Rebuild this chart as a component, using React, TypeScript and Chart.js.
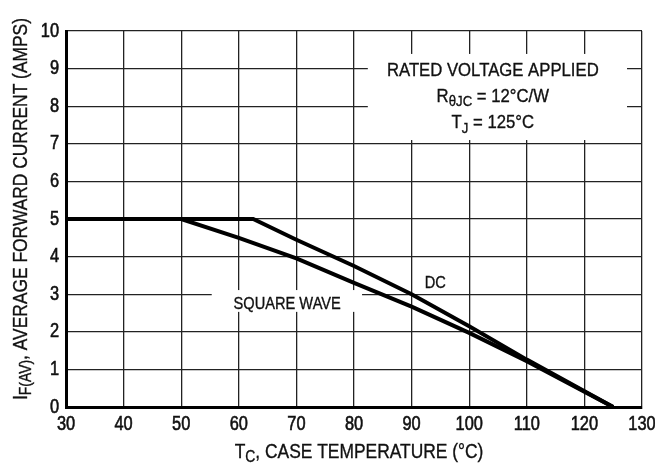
import React, { useEffect, useRef } from "react";
import { Chart, registerables } from "chart.js";

Chart.register(...registerables);

const xTicksMin = 30;
const xTicksMax = 130;
const yTicksMin = 0;
const yTicksMax = 10;

const dcTemp = [30, 62.5, 70, 80, 90, 100, 110, 125];
const dcCurrent = [5, 5, 4.45, 3.75, 3.0, 2.15, 1.26, 0];
const swTemp = [30, 50, 60, 70, 80, 90, 100, 110, 125];
const swCurrent = [5, 5, 4.5, 3.95, 3.3, 2.67, 1.97, 1.22, 0];

const FONT = "'Liberation Sans', Arial, sans-serif";

type Part = [string, boolean];

function drawParts(ctx: CanvasRenderingContext2D, parts: Part[], cx: number, cy: number, size: number, sx: number, align: "center" | "left" | "right" = "center", weight = 0.35) {
  const big = `${size}px ${FONT}`;
  const small = `${Math.round(size * 0.78)}px ${FONT}`;
  let w = 0;
  for (const [t, sub] of parts) {
    ctx.font = sub ? small : big;
    w += ctx.measureText(t).width;
  }
  ctx.save();
  ctx.translate(cx, cy);
  ctx.scale(sx, 1);
  ctx.textAlign = "left";
  ctx.textBaseline = "middle";
  ctx.strokeStyle = ctx.fillStyle as string;
  ctx.lineWidth = weight;
  let x = align === "center" ? -w / 2 : align === "right" ? -w : 0;
  for (const [t, sub] of parts) {
    ctx.font = sub ? small : big;
    const yy = sub ? size * 0.3 : 0;
    ctx.fillText(t, x, yy);
    if (weight > 0) ctx.strokeText(t, x, yy);
    x += ctx.measureText(t).width;
  }
  ctx.restore();
}

const annotationPlugin = {
  id: "annot",
  afterDatasetsDraw(chart: any) {
    const { ctx, scales } = chart;
    const xs = scales.x;
    const ys = scales.y;
    const px = (v: number) => xs.getPixelForValue(v);
    const py = (v: number) => ys.getPixelForValue(v);
    ctx.save();
    ctx.fillStyle = "#fff";
    ctx.fillRect(px(82.4), py(9.39), px(127.4) - px(82.4), py(7.1) - py(9.39));
    ctx.fillRect(px(55.3), py(3.11), px(81.4) - px(55.3), py(2.53) - py(3.11));
    ctx.fillStyle = "#111";
    drawParts(ctx, [["RATED VOLTAGE APPLIED", false]], px(104.1), py(8.94), 19, 0.88);
    drawParts(ctx, [["R", false], ["θJC", true], [" = 12°C/W", false]], px(104.1), py(8.26), 19, 0.88);
    drawParts(ctx, [["T", false], ["J", true], [" = 125°C", false]], px(104.1), py(7.55), 19, 0.88);
    drawParts(ctx, [["SQUARE WAVE", false]], px(68.4), py(2.74), 17, 0.86);
    drawParts(ctx, [["DC", false]], px(94.1), py(3.3), 17, 0.86);

    // tick labels from the scales
    for (const t of xs.ticks) {
      drawParts(ctx, [[String(t.value), false]], xs.getPixelForValue(t.value), 424, 20, 0.82, "center", 0.6);
    }
    for (const t of ys.ticks) {
      drawParts(ctx, [[String(t.value), false]], 59, ys.getPixelForValue(t.value), 20, 0.82, "right", 0.6);
    }

    // axis titles
    drawParts(ctx, [["T", false], ["C", true], [", CASE TEMPERATURE (°C)", false]], 359, 452, 20, 0.87);
    ctx.save();
    ctx.translate(21, 209);
    ctx.rotate(-Math.PI / 2);
    drawParts(ctx, [["I", false], ["F(AV)", true], [", AVERAGE FORWARD CURRENT (AMPS)", false]], 0, 0, 20, 0.87);
    ctx.restore();
    ctx.restore();
  },
};

export default function App() {
  const ref = useRef<HTMLCanvasElement | null>(null);
  useEffect(() => {
    if (!ref.current) return;
    const chart = new Chart(ref.current, {
      type: "line",
      data: {
        datasets: [
          {
            label: "DC",
            data: dcTemp.map((t, i) => ({ x: t, y: dcCurrent[i] })),
            borderColor: "#000",
            borderWidth: 4,
            pointRadius: 0,
            tension: 0,
          },
          {
            label: "SQUARE WAVE",
            data: swTemp.map((t, i) => ({ x: t, y: swCurrent[i] })),
            borderColor: "#000",
            borderWidth: 4,
            pointRadius: 0,
            tension: 0,
          },
        ],
      },
      options: {
        responsive: false,
        animation: false,
        layout: { padding: { top: 31, right: 13, left: 0, bottom: 0 } },
        plugins: { legend: { display: false }, tooltip: { enabled: false } },
        scales: {
          x: {
            type: "linear",
            min: xTicksMin,
            max: xTicksMax,
            ticks: { stepSize: 10, display: false },
            grid: { color: "#222", lineWidth: 1.3, drawTicks: false },
            border: { color: "#000", width: 3 },
            afterFit: (s: any) => {
              s.height = 56;
            },
          },
          y: {
            min: yTicksMin,
            max: yTicksMax,
            ticks: { stepSize: 1, display: false },
            grid: { color: "#222", lineWidth: 1.3, drawTicks: false },
            border: { color: "#000", width: 3 },
            afterFit: (s: any) => {
              s.width = 66;
            },
          },
        },
      },
      plugins: [annotationPlugin],
    } as any);
    return () => chart.destroy();
  }, []);
  return (
    <div style={{ position: "fixed", left: 0, top: 0, width: 655, height: 463, background: "#fff" }}>
      <canvas ref={ref} width={655} height={463} style={{ width: 655, height: 463 }} />
    </div>
  );
}
